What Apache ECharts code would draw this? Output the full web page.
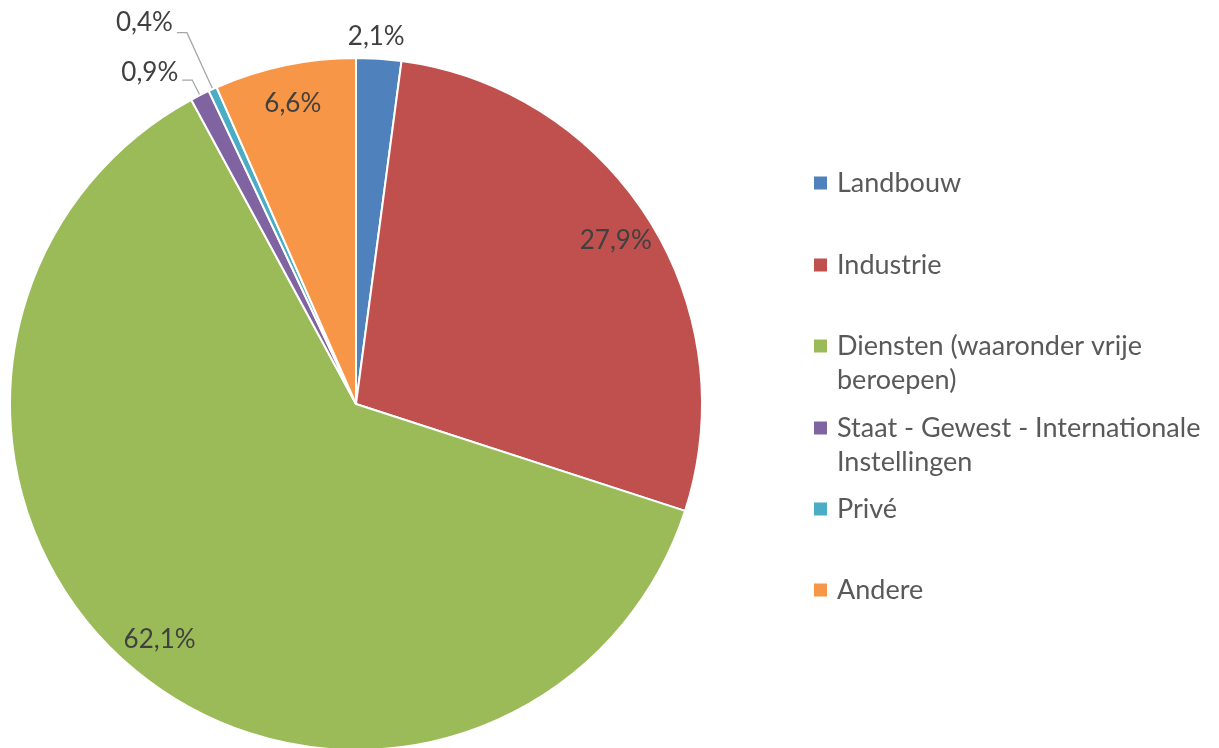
<!DOCTYPE html>
<html>
<head>
<meta charset="utf-8">
<script src="https://cdn.jsdelivr.net/npm/echarts@6/dist/echarts.min.js"></script>
<style>
  html, body { margin: 0; padding: 0; background: #fff; }
  #myChart { width: 1219px; height: 748px; }
</style>
</head>
<body>
<div id="myChart"></div>
<script>
// sectoren en aandelen (%)
var categories = [
  'Landbouw',
  'Industrie',
  'Diensten (waaronder vrije beroepen)',
  'Staat - Gewest - Internationale Instellingen',
  'Privé',
  'Andere'
];
var legendText = [
  'Landbouw',
  'Industrie',
  'Diensten (waaronder vrije\nberoepen)',
  'Staat - Gewest - Internationale\nInstellingen',
  'Privé',
  'Andere'
];
var shares = [2.1, 27.9, 62.1, 0.9, 0.4, 6.6];
var colors = ['#4F81BD', '#C0504D', '#9BBB59', '#8064A2', '#4BACC6', '#F79646'];

var FONT = 'Lato, "Open Sans", sans-serif';
var bigSlice = [false, true, true, false, false, true];

function pct(v) {
  return v.toFixed(1).replace('.', ',') + '%';
}

// buitenlabels voor kleine stukken (lift = tekst iets boven de lijn)
var outerLabel = {
  0: { length: 22, length2: 0, line: false, lift: 0 },
  3: { length: 17, length2: 10, line: true, lift: -7 },
  4: { length: 62, length2: 10, line: true, lift: -10 }
};

var pieData = categories.map(function (name, i) {
  var o = outerLabel[i];
  return {
    name: name,
    value: shares[i],
    itemStyle: { color: colors[i] },
    label: { show: !!o },
    labelLine: o ? { show: o.line, length: o.length, length2: o.length2 } : { show: false }
  };
});

var ringData = categories.map(function (name, i) {
  return {
    name: name,
    value: shares[i],
    label: { show: bigSlice[i] }
  };
});

var singleIcon = 'path://M0,0L13,0L13,13L0,13Z M18,0L18,0Z';
var doubleIcon = 'path://M0,0L13,0L13,13L0,13Z M18,47L18,47Z';
var legendTops = [166, 248, 329, 411, 492, 573];

var legends = categories.map(function (name, i) {
  var two = legendText[i].indexOf('\n') >= 0;
  return {
    data: [name],
    left: 814,
    top: legendTops[i],
    orient: 'vertical',
    padding: 0,
    selectedMode: false,
    itemWidth: 18,
    itemHeight: two ? 47 : 13,
    icon: two ? doubleIcon : singleIcon,
    itemStyle: { borderWidth: 0 },
    formatter: function () { return legendText[i]; },
    textStyle: { fontFamily: FONT, fontSize: 27, color: '#595959', lineHeight: 34 }
  };
});

var option = {
  backgroundColor: '#fff',
  animation: false,
  legend: legends,
  series: [
    {
      type: 'pie',
      center: [356, 404],
      radius: [0, 346],
      startAngle: 90,
      clockwise: true,
      avoidLabelOverlap: false,
      itemStyle: { borderColor: '#fff', borderWidth: 2 },
      label: {
        position: 'outside',
        fontFamily: FONT,
        fontSize: 26,
        color: '#404040',
        distanceToLabelLine: 4,
        formatter: function (p) { return pct(p.value); }
      },
      labelLine: { lineStyle: { color: '#A6A6A6', width: 1.3 } },
      labelLayout: function (p) {
        if (p.dataIndex === 0) {
          return { align: 'center', dx: -8 };
        }
        var o = outerLabel[p.dataIndex];
        if (o) {
          return { dy: o.lift };
        }
      },
      emphasis: { disabled: true },
      data: pieData
    },
    {
      // transparante ring, alleen voor de binnenlabels
      type: 'pie',
      center: [356, 404],
      radius: [262, 346],
      startAngle: 90,
      clockwise: true,
      silent: true,
      itemStyle: { color: 'rgba(0,0,0,0)', borderWidth: 0 },
      label: {
        position: 'inside',
        fontFamily: FONT,
        fontSize: 26,
        color: '#404040',
        formatter: function (p) { return pct(p.value); }
      },
      labelLine: { show: false },
      emphasis: { disabled: true },
      data: ringData
    }
  ]
};

var myChart = echarts.init(document.getElementById('myChart'));
myChart.setOption(option);
</script>
</body>
</html>
